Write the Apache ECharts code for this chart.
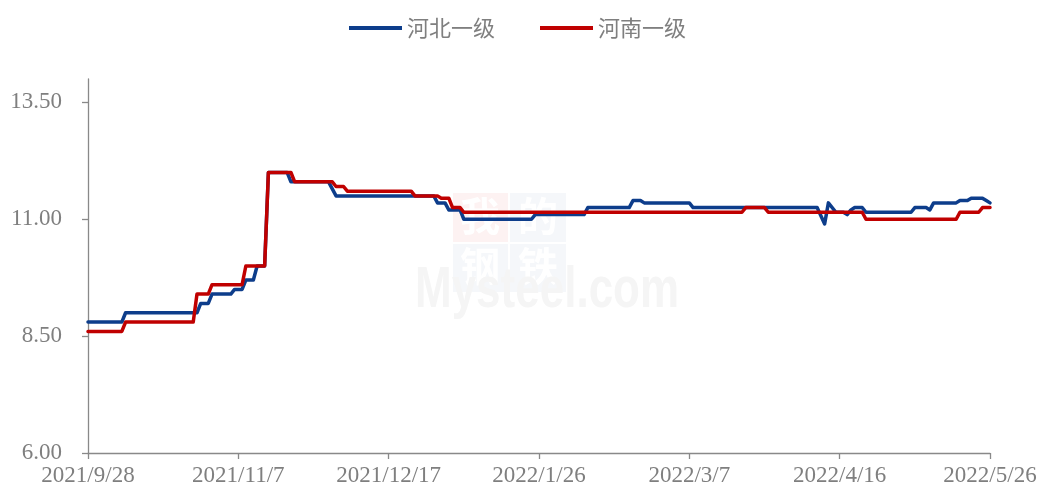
<!DOCTYPE html>
<html>
<head>
<meta charset="utf-8">
<script src="https://cdn.jsdelivr.net/npm/echarts@6/dist/echarts.min.js"></script>
<style>
  html, body { margin: 0; padding: 0; background: #fff; }
  #chart { width: 1041px; height: 489px; }
</style>
</head>
<body>
<div id="chart"></div>
<script>
// 河北一级 (转折点日期与数值)
var hebeiDates = ['2021/9/28', '2021/10/7', '2021/10/8', '2021/10/27', '2021/10/28', '2021/10/30', '2021/10/31',
  '2021/11/5', '2021/11/6', '2021/11/8', '2021/11/9', '2021/11/11', '2021/11/12', '2021/11/14', '2021/11/15',
  '2021/11/20', '2021/11/21', '2021/12/1', '2021/12/3', '2021/12/29', '2021/12/30', '2022/1/1', '2022/1/2',
  '2022/1/5', '2022/1/6', '2022/1/24', '2022/1/25', '2022/2/7', '2022/2/8', '2022/2/19', '2022/2/20',
  '2022/2/22', '2022/2/23', '2022/3/7', '2022/3/8', '2022/4/10', '2022/4/12', '2022/4/13', '2022/4/15',
  '2022/4/17', '2022/4/18', '2022/4/19', '2022/4/20', '2022/4/22', '2022/4/23', '2022/5/5', '2022/5/6',
  '2022/5/9', '2022/5/10', '2022/5/11', '2022/5/17', '2022/5/18', '2022/5/20', '2022/5/21', '2022/5/24',
  '2022/5/25', '2022/5/26'];
var hebeiValues = [8.8, 8.8, 9.0, 9.0, 9.2, 9.2, 9.4,
  9.4, 9.5, 9.5, 9.7, 9.7, 10.0, 10.0, 12.0,
  12.0, 11.8, 11.8, 11.5, 11.5, 11.35, 11.35, 11.2,
  11.2, 11.0, 11.0, 11.1, 11.1, 11.25, 11.25, 11.4,
  11.4, 11.35, 11.35, 11.25, 11.25, 10.9, 11.35, 11.15,
  11.15, 11.1, 11.2, 11.25, 11.25, 11.15, 11.15, 11.25,
  11.25, 11.2, 11.35, 11.35, 11.4, 11.4, 11.45, 11.45,
  11.4, 11.35];

// 河南一级
var henanDates = ['2021/9/28', '2021/10/7', '2021/10/8', '2021/10/26', '2021/10/27', '2021/10/30', '2021/10/31',
  '2021/11/8', '2021/11/9', '2021/11/14', '2021/11/15', '2021/11/21', '2021/11/22', '2021/12/2', '2021/12/3',
  '2021/12/5', '2021/12/6', '2021/12/23', '2021/12/24', '2021/12/30', '2021/12/31', '2022/1/2', '2022/1/3',
  '2022/1/5', '2022/1/6', '2022/3/21', '2022/3/22', '2022/3/27', '2022/3/28', '2022/4/22', '2022/4/23',
  '2022/5/17', '2022/5/18', '2022/5/23', '2022/5/24', '2022/5/26'];
var henanValues = [8.6, 8.6, 8.8, 8.8, 9.4, 9.4, 9.6,
  9.6, 10.0, 10.0, 12.0, 12.0, 11.8, 11.8, 11.7,
  11.7, 11.6, 11.6, 11.5, 11.5, 11.45, 11.45, 11.25,
  11.25, 11.15, 11.15, 11.25, 11.25, 11.15, 11.15, 11.0,
  11.0, 11.15, 11.15, 11.25, 11.25];

var startDate = '2021/9/28';
var endDate = '2022/5/26';
var tickDays = 40;
var yTicks = [6, 8.5, 11, 13.5];

function dayNum(s) {
  var p = s.split('/');
  return Date.UTC(+p[0], +p[1] - 1, +p[2]) / 86400000;
}
var day0 = dayNum(startDate);
function toPairs(dates, vals) {
  return dates.map(function (d, i) { return [dayNum(d) - day0, vals[i]]; });
}
function dayLabel(v) {
  var d = new Date((day0 + v) * 86400000);
  return d.getUTCFullYear() + '/' + (d.getUTCMonth() + 1) + '/' + d.getUTCDate();
}

var chart = echarts.init(document.getElementById('chart'));
var axisColor = '#898989';
var textColor = '#7f7f7f';
var serif = '"Liberation Serif", "Times New Roman", serif';

chart.setOption({
  animation: false,
  graphic: [
    // 水印
    { type: 'rect', z: -10, shape: { x: 453, y: 193, width: 55, height: 49 }, style: { fill: '#fdf2f2' } },
    { type: 'rect', z: -10, shape: { x: 510, y: 193, width: 56, height: 49 }, style: { fill: '#f5f7fa' } },
    { type: 'rect', z: -10, shape: { x: 453, y: 244, width: 55, height: 48 }, style: { fill: '#f5f7fa' } },
    { type: 'rect', z: -10, shape: { x: 510, y: 244, width: 56, height: 48 }, style: { fill: '#f5f7fa' } },
    { type: 'text', z: -9, left: 460, top: 196, style: { text: '我', fill: '#fff', font: 'bold 40px "Noto Sans CJK SC"' } },
    { type: 'text', z: -9, left: 518, top: 196, style: { text: '的', fill: '#fff', font: 'bold 40px "Noto Sans CJK SC"' } },
    { type: 'text', z: -9, left: 460, top: 246, style: { text: '钢', fill: '#fff', font: 'bold 40px "Noto Sans CJK SC"' } },
    { type: 'text', z: -9, left: 518, top: 246, style: { text: '铁', fill: '#fff', font: 'bold 40px "Noto Sans CJK SC"' } },
    { type: 'text', z: -9, x: 415, y: 320, scaleY: 1.3,
      style: { text: 'Mysteel.com', fill: '#f5f5f5', font: 'bold 44px "Liberation Sans", Arial, sans-serif', textVerticalAlign: 'bottom' } }
  ],
  legend: {
    top: 12,
    left: 344,
    itemWidth: 53,
    itemHeight: 4,
    itemGap: 45,
    icon: 'rect',
    textStyle: { color: textColor, fontSize: 22, fontFamily: '"Noto Sans CJK SC"' },
    data: ['河北一级', '河南一级']
  },
  grid: { left: 88, right: 51, top: 79, bottom: 36, containLabel: false },
  xAxis: {
    type: 'value',
    min: 0,
    max: dayNum(endDate) - day0,
    interval: tickDays,
    splitLine: { show: false },
    axisLine: { lineStyle: { color: axisColor, width: 1.3 } },
    axisTick: { show: true, length: 6, lineStyle: { color: axisColor, width: 1.3 } },
    axisLabel: {
      color: textColor, fontSize: 23, fontFamily: serif, margin: 11,
      showMinLabel: true, showMaxLabel: true,
      formatter: function (v) { return dayLabel(v); }
    }
  },
  yAxis: {
    type: 'value',
    min: 6,
    max: 14,
    splitLine: { show: false },
    axisLine: { show: true, lineStyle: { color: axisColor, width: 1.3 } },
    axisTick: { show: true, length: 6, customValues: yTicks, lineStyle: { color: axisColor, width: 1.3 } },
    axisLabel: {
      color: textColor, fontSize: 23, fontFamily: serif, margin: 26,
      customValues: yTicks,
      formatter: function (v) { return v.toFixed(2); }
    }
  },
  series: [
    {
      name: '河北一级',
      type: 'line',
      data: toPairs(hebeiDates, hebeiValues),
      showSymbol: false,
      symbol: 'none',
      itemStyle: { color: '#0d3d8b' },
      lineStyle: { color: '#0d3d8b', width: 3.5, join: 'round', cap: 'round' }
    },
    {
      name: '河南一级',
      type: 'line',
      data: toPairs(henanDates, henanValues),
      showSymbol: false,
      symbol: 'none',
      itemStyle: { color: '#c00000' },
      lineStyle: { color: '#c00000', width: 3.5, join: 'round', cap: 'round' }
    }
  ]
});
</script>
</body>
</html>
